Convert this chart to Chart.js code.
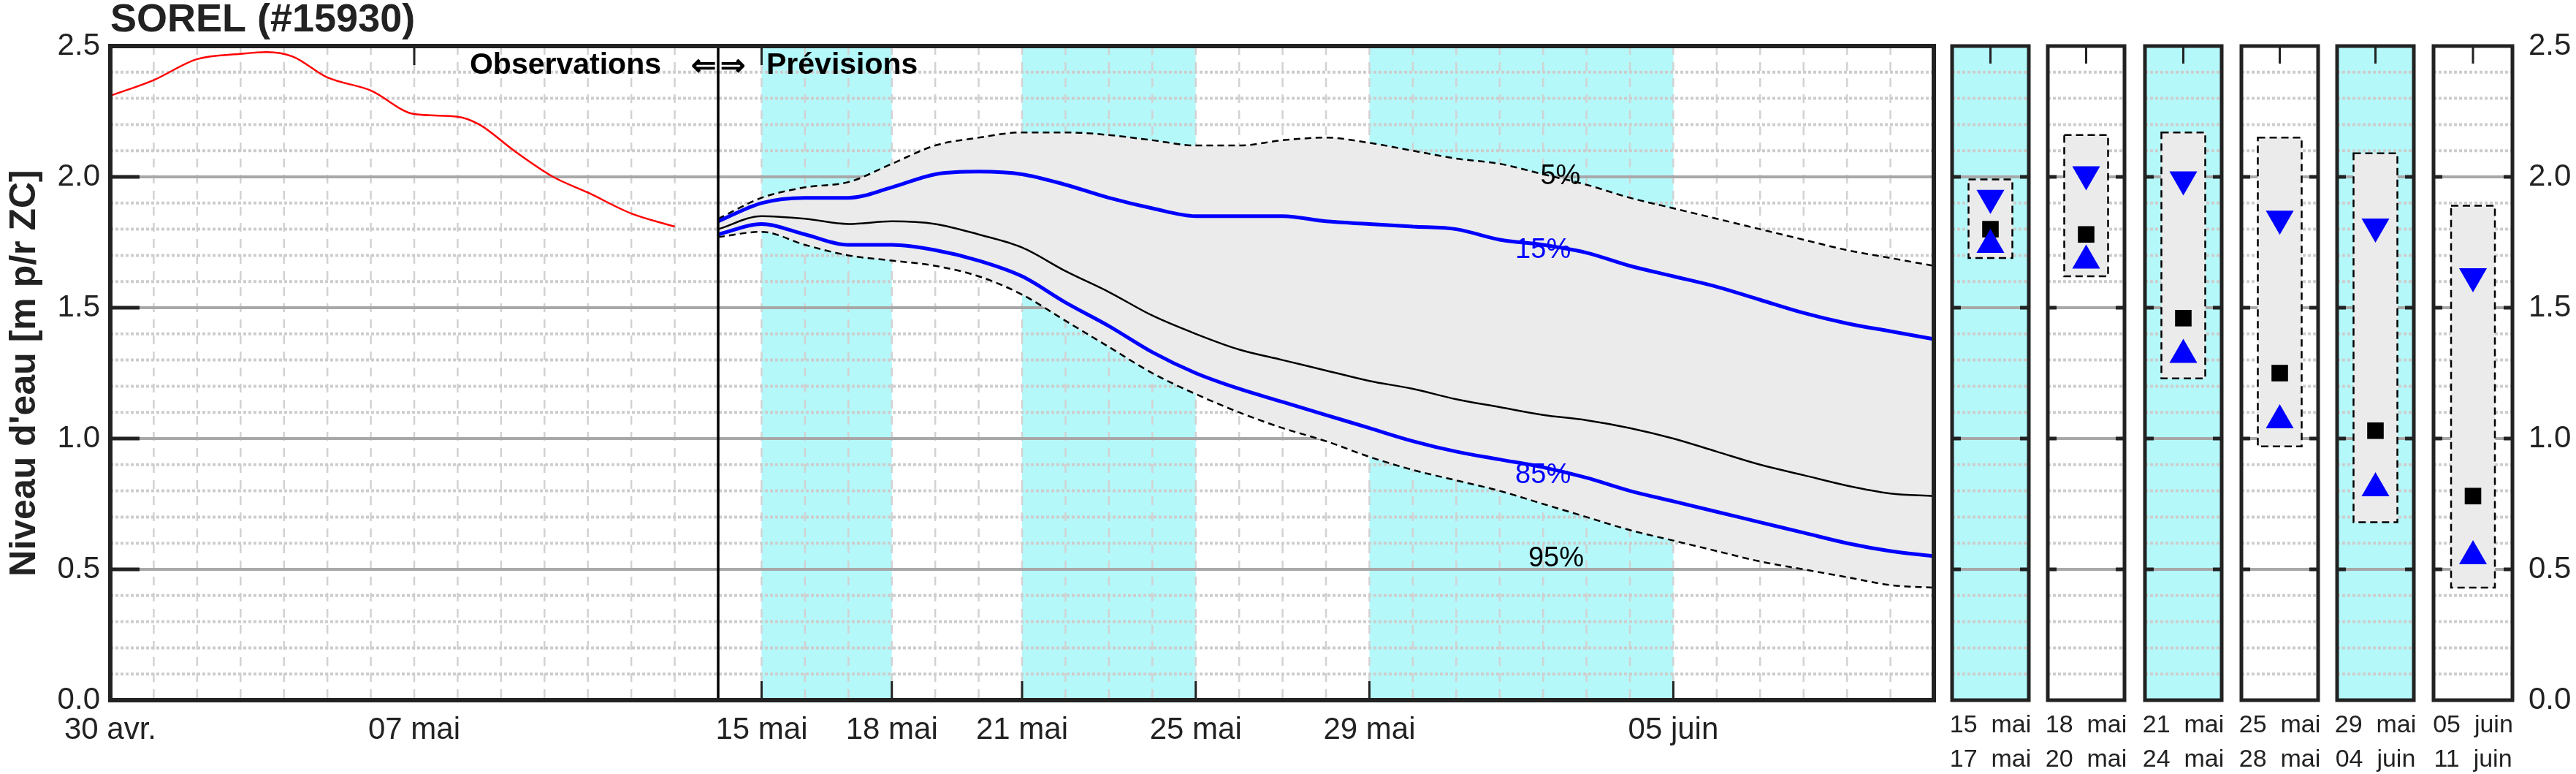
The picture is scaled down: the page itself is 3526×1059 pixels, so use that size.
<!DOCTYPE html>
<html><head><meta charset="utf-8">
<script src="https://cdn.jsdelivr.net/npm/chart.js@4/dist/chart.umd.min.js"></script>
<style>body{margin:0;background:#fff;width:3526px;height:1059px;overflow:hidden;position:relative}
canvas{position:absolute;top:0}</style></head><body>
<canvas id="main" width="2680" height="1059" style="left:0"></canvas>
<div id="panels"></div>
<script>
// ---- data (x = days since 30 avr.) ----
const obsDays  = [0,1,2,3,3.6,4.2,5,6,7,8,8.5,9.3,10.2,11,12,13];
const obsLevel = [2.31,2.37,2.45,2.47,2.477,2.46,2.38,2.33,2.24,2.23,2.2,2.10,2.0,1.94,1.86,1.81];
const fcDays = [14,15,16,17,18,19,20,21,22,23,24,25,26,27,28,29,30,31,32,33,34,35,36,37,38,39,40,41,42];
const p5  = [1.84,1.92,1.96,1.98,2.05,2.12,2.15,2.17,2.17,2.16,2.14,2.12,2.12,2.14,2.15,2.13,2.10,2.07,2.05,2.01,1.97,1.92,1.88,1.84,1.80,1.76,1.72,1.69,1.66];
const p15 = [1.83,1.90,1.92,1.92,1.96,2.01,2.02,2.01,1.97,1.92,1.88,1.85,1.85,1.85,1.83,1.82,1.81,1.80,1.76,1.74,1.71,1.66,1.62,1.58,1.53,1.48,1.44,1.41,1.38];
const p50 = [1.80,1.85,1.84,1.82,1.83,1.82,1.78,1.73,1.64,1.56,1.47,1.40,1.34,1.30,1.26,1.22,1.19,1.15,1.12,1.09,1.07,1.04,1.00,0.95,0.90,0.86,0.82,0.79,0.78];
const p85 = [1.78,1.82,1.78,1.74,1.74,1.72,1.68,1.62,1.52,1.43,1.33,1.25,1.19,1.14,1.09,1.04,0.99,0.95,0.92,0.89,0.85,0.80,0.76,0.72,0.68,0.64,0.60,0.57,0.55];
const p95 = [1.77,1.79,1.74,1.70,1.68,1.66,1.62,1.55,1.45,1.35,1.25,1.17,1.10,1.04,0.99,0.93,0.88,0.84,0.80,0.75,0.70,0.65,0.61,0.57,0.53,0.50,0.47,0.44,0.43];
const tickDays   = [0,7,15,18,21,25,29,36];
const tickLabels = ['30 avr.','07 mai','15 mai','18 mai','21 mai','25 mai','29 mai','05 juin'];
const bandStart = [15,21,29];
const bandEnd   = [18,25,36];
const splitDay = 14;
const pctLabels = ['5%','15%','85%','95%'];
const pctLabelDay = [33.4,33.0,33.0,33.3];
const pctLabelVal = [2.0,1.72,0.86,0.54];
// panels
const panelLabels = [['15  mai','17  mai'],['18  mai','20  mai'],['21  mai','24  mai'],['25  mai','28  mai'],['29  mai','04  juin'],['05  juin','11  juin']];
const panelCyan = [true,false,true,false,true,false];
const boxHigh = [1.99,2.16,2.17,2.15,2.09,1.89];
const boxLow  = [1.69,1.62,1.23,0.97,0.68,0.43];
const pan15 = [1.92,2.01,1.99,1.84,1.81,1.62];
const pan50 = [1.80,1.78,1.46,1.25,1.03,0.78];
const pan85 = [1.74,1.68,1.32,1.07,0.81,0.55];

const FONT = "'Liberation Sans Narrow','Arial Narrow',sans-serif";
const SANS = "'Liberation Sans', Arial, sans-serif";
const CYAN = '#b4f8fa', FRAME = '#222';
const TOP = 63, XH = 101;

function gridPlugin(opts){ return {
  id:'grid',
  beforeDatasetsDraw(ch){
    const {ctx, chartArea:a, scales:{x,y}} = ch;
    ctx.save();
    ctx.beginPath(); ctx.rect(a.left,a.top,a.right-a.left,a.bottom-a.top); ctx.clip();
    if (opts.cyan){ ctx.fillStyle=CYAN; ctx.fillRect(a.left,a.top,a.right-a.left,a.bottom-a.top); }
    if (opts.bands){ ctx.fillStyle=CYAN;
      bandStart.forEach((s,i)=>{const x0=x.getPixelForValue(s),x1=x.getPixelForValue(bandEnd[i]); ctx.fillRect(x0,a.top,x1-x0,a.bottom-a.top);});}
    if (opts.days){ ctx.strokeStyle='#d2d2d2'; ctx.lineWidth=2.5; ctx.setLineDash([12,10]);
      for(let d=1; d<42; d++){const px=x.getPixelForValue(d); ctx.beginPath(); ctx.moveTo(px,a.top); ctx.lineTo(px,a.bottom); ctx.stroke();}}
    ctx.setLineDash([4,3]); ctx.strokeStyle='#cdcdcd'; ctx.lineWidth=4;
    for(let i=1;i<25;i++){ if(i%5===0) continue; const py=y.getPixelForValue(i/10); ctx.beginPath(); ctx.moveTo(a.left,py); ctx.lineTo(a.right,py); ctx.stroke(); }
    ctx.setLineDash([]); ctx.strokeStyle='#a8a8a8'; ctx.lineWidth=4;
    for(let i=1;i<5;i++){ const py=y.getPixelForValue(i/2); ctx.beginPath(); ctx.moveTo(a.left,py); ctx.lineTo(a.right,py); ctx.stroke(); }
    ctx.restore();
  },
  afterDatasetsDraw(ch){
    const {ctx, chartArea:a, scales:{x,y}} = ch;
    ctx.save();
    if (opts.box){ const meta = ch.getDatasetMeta(3); const el = meta.data[0];
      const l = el.x-el.width/2, r = el.x+el.width/2;
      ctx.strokeStyle='#000'; ctx.lineWidth=2.5; ctx.setLineDash([10,6]);
      ctx.strokeRect(l, Math.min(el.y,el.base), r-l, Math.abs(el.base-el.y)); ctx.setLineDash([]); }
    ctx.strokeStyle=FRAME; ctx.lineWidth=5;
    for(let i=1;i<5;i++){ const py=y.getPixelForValue(i/2);
      ctx.beginPath(); ctx.moveTo(a.left,py); ctx.lineTo(a.left+(opts.main?40:12),py); ctx.stroke();
      if(!opts.main){ctx.beginPath(); ctx.moveTo(a.right,py); ctx.lineTo(a.right-12,py); ctx.stroke();} }
    ctx.lineWidth=3;
    if (opts.main){
      [7,15].forEach(d=>{const px=x.getPixelForValue(d); ctx.beginPath(); ctx.moveTo(px,a.top); ctx.lineTo(px,a.top+26); ctx.stroke();});
      [15,18,21,25,29,36].forEach(d=>{const px=x.getPixelForValue(d); ctx.beginPath(); ctx.moveTo(px,a.bottom); ctx.lineTo(px,a.bottom-26); ctx.stroke();});
      const sx = x.getPixelForValue(splitDay);
      ctx.lineWidth=3.5; ctx.strokeStyle='#000'; ctx.beginPath(); ctx.moveTo(sx,a.top); ctx.lineTo(sx,a.bottom); ctx.stroke();
      ctx.fillStyle='#000'; ctx.font="bold 41px "+SANS; ctx.textBaseline='middle';
      ctx.textAlign='right'; ctx.fillText('Observations', sx-78, 90);
      ctx.fillText('\u21D0', sx-3, 92);
      ctx.textAlign='left'; ctx.fillText('\u21D2', sx+3, 92);
      ctx.fillText('Prévisions', sx+66, 90);
      ctx.font="38px "+SANS; ctx.textAlign='center';
      pctLabels.forEach((t,i)=>{ ctx.fillStyle=(i===1||i===2)?'#0000ff':'#000';
        ctx.fillText(t, x.getPixelForValue(pctLabelDay[i]), y.getPixelForValue(pctLabelVal[i])); });
      ctx.font="bold 54px "+SANS; ctx.textAlign='left'; ctx.fillStyle='#222';
      ctx.fillText('SOREL (#15930)', a.left, 28);
    } else {
      const px=x.getPixelForValue(0.5); ctx.beginPath(); ctx.moveTo(px,a.top); ctx.lineTo(px,a.top+24); ctx.stroke();
      ctx.fillStyle='#222'; ctx.font="34px "+FONT; ctx.textAlign='center'; ctx.textBaseline='middle';
      ctx.fillText(opts.label[0], px, a.bottom+35); ctx.fillText(opts.label[1], px, a.bottom+82);
    }
    ctx.strokeStyle=FRAME; ctx.lineWidth=opts.main?6:5; ctx.strokeRect(a.left,a.top,a.right-a.left,a.bottom-a.top);
    ctx.restore();
  }
};}

const pts = (xs,ys)=>xs.map((v,i)=>({x:v,y:ys[i]}));
const lineDs = (data,color,width,dash,extra)=>Object.assign({type:'line',data,borderColor:color,borderWidth:width,borderDash:dash||[],pointRadius:0,tension:0.4,cubicInterpolationMode:'monotone',fill:false},extra||{});

new Chart(document.getElementById('main'),{
  type:'line',
  data:{datasets:[
    lineDs(pts(obsDays,obsLevel),'#ff0000',2.5),
    lineDs(pts(fcDays,p15),'#0000ff',5),
    lineDs(pts(fcDays,p50),'#000',2.5),
    lineDs(pts(fcDays,p85),'#0000ff',5),
    lineDs(pts(fcDays,p5),'#000',2.5,[9,6]),
    lineDs(pts(fcDays,p95),'#000',2.5,[9,6],{fill:4,backgroundColor:'#ebebeb'})
  ]},
  options:{responsive:false,devicePixelRatio:1,animation:false,
    layout:{padding:{top:TOP,right:33,left:0,bottom:0}},
    plugins:{legend:{display:false},tooltip:{enabled:false}},
    scales:{
      x:{type:'linear',min:0,max:42,afterBuildTicks:s=>{s.ticks=tickDays.map(v=>({value:v}));},
        afterFit:s=>{s.height=XH;},
        grid:{display:false,drawTicks:false},border:{display:false},
        ticks:{autoSkip:false,maxRotation:0,padding:16,color:'#222',font:{family:FONT,size:42},callback:(v)=>tickLabels[tickDays.indexOf(v)]}},
      y:{min:0,max:2.5,afterFit:s=>{s.width=151;},
        grid:{display:false,drawTicks:false},border:{display:false},
        ticks:{stepSize:0.5,padding:14,color:'#222',font:{family:FONT,size:42},callback:v=>v.toFixed(1)},
        title:{display:true,text:"Niveau d'eau [m p/r ZC]",color:'#222',padding:{top:4,bottom:2},font:{family:SANS,size:50,weight:'bold'}}}
    }},
  plugins:[gridPlugin({main:true,bands:true,days:true})]
});

const panelLeft = [2669,2800,2933,3065,3196,3328];
const PW = 111;
panelLeft.forEach((left,i)=>{
  const last = i===panelLeft.length-1;
  const cv=document.createElement('canvas');
  cv.width = PW+(last?95:0); cv.height = 1059; cv.style.left = left+'px';
  document.getElementById('panels').appendChild(cv);
  new Chart(cv,{
    type:'scatter',
    data:{datasets:[
      {type:'scatter',data:[{x:0.5,y:pan15[i]}],pointStyle:'triangle',rotation:180,pointRadius:22,backgroundColor:'#0000ff',borderWidth:0},
      {type:'scatter',data:[{x:0.5,y:pan85[i]}],pointStyle:'triangle',pointRadius:22,backgroundColor:'#0000ff',borderWidth:0},
      {type:'scatter',data:[{x:0.5,y:pan50[i]}],pointStyle:'rect',pointRadius:16,backgroundColor:'#000',borderWidth:0},
      {type:'bar',data:[{x:0.5,y:[boxLow[i],boxHigh[i]]}],backgroundColor:'#ebebeb',borderWidth:0,barThickness:60}
    ]},
    options:{responsive:false,devicePixelRatio:1,animation:false,
      layout:{autoPadding:false,padding:{top:TOP,left:3,right:last?0:3,bottom:0}},
      plugins:{legend:{display:false},tooltip:{enabled:false}},
      scales:{
        x:{type:'linear',min:0,max:1,offset:false,afterFit:s=>{s.height=XH;},
          grid:{display:false,drawTicks:false},border:{display:false},ticks:{display:false}},
        y:{min:0,max:2.5,position:'right',display:last,afterFit:s=>{s.width=last?95:0;},
          grid:{display:false,drawTicks:false},border:{display:false},
          ticks:{stepSize:0.5,padding:22,color:'#222',font:{family:FONT,size:42},callback:v=>v.toFixed(1)}}
      }},
    plugins:[gridPlugin({cyan:panelCyan[i],box:true,label:panelLabels[i]})]
  });
});
</script></body></html>
